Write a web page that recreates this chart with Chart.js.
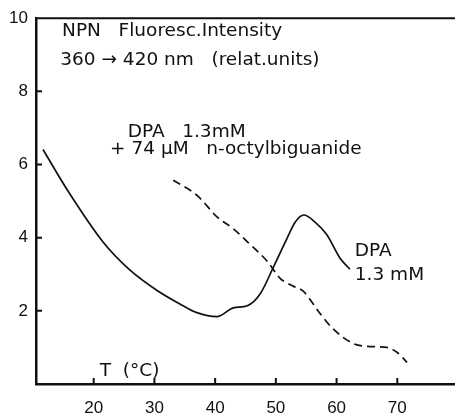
<!DOCTYPE html>
<html>
<head>
<meta charset="utf-8">
<script src="https://cdn.jsdelivr.net/npm/chart.js@4"></script>
<style>
  html, body { margin: 0; padding: 0; background: #fff; }
  #box { width: 455px; height: 419px; }
</style>
</head>
<body>
<div id="box"><canvas id="grafica"></canvas></div>
<script>
// datos (T en °C, intensidad en unidades relativas)
const tSolida = [11.65, 15.9, 21.5, 25.8, 30.5, 34.2, 37, 40.3, 43, 45.3, 47.4, 49.5, 51.8, 53.2, 54.6, 56.5, 58.4, 60.6, 62.2];
const ySolida = [6.41, 5.24, 3.89, 3.14, 2.55, 2.19, 1.95, 1.84, 2.08, 2.14, 2.46, 3.16, 3.97, 4.43, 4.62, 4.42, 4.08, 3.43, 3.14];

const tRayas = [33.1, 37, 40.3, 43, 45.8, 48.6, 50.7, 52.8, 54.5, 57.3, 59.4, 62.7, 65, 68.3, 70, 71.6];
const yRayas = [5.57, 5.16, 4.57, 4.24, 3.81, 3.35, 2.89, 2.68, 2.54, 1.92, 1.51, 1.11, 1.03, 1.0, 0.86, 0.59];

const ticksX = [20, 30, 40, 50, 60, 70];
const ticksY = [2, 4, 6, 8, 10];

// textos sueltos: [texto, x (°C), y (unidades)]
const textos = [
  ['NPN   Fluoresc.Intensity', 14.8, 9.51],
  ['360 \u2192 420 nm   (relat.units)', 14.5, 8.73],
  ['DPA   1.3mM', 25.6, 6.75],
  ['+ 74 \u00b5M   n-octylbiguanide', 22.7, 6.3],
  ['DPA', 63.0, 3.51],
  ['1.3 mM', 63.0, 2.84],
  ['T  (\u00b0C)', 21.0, 0.22]
];

const tinta = '#111';
const fuente = '"DejaVu Sans", sans-serif';
const fuenteTicks = '"Liberation Sans", Arial, sans-serif';

const pts = (xs, ys) => xs.map((x, i) => ({ x, y: ys[i] }));

// marcas hacia adentro, linea superior y textos
const extras = {
  id: 'extras',
  afterDraw(chart) {
    const ctx = chart.ctx;
    const a = chart.chartArea;
    const sx = chart.scales.x, sy = chart.scales.y;
    ctx.save();
    ctx.strokeStyle = tinta;
    ctx.lineWidth = 2;
    ctx.beginPath();
    ctx.moveTo(a.left, a.top);
    ctx.lineTo(a.right, a.top);
    ticksY.forEach(v => {
      const p = sy.getPixelForValue(v);
      ctx.moveTo(a.left, p);
      ctx.lineTo(a.left + 6, p);
    });
    ticksX.forEach(v => {
      const p = sx.getPixelForValue(v);
      ctx.moveTo(p, a.bottom);
      ctx.lineTo(p, a.bottom - 6);
    });
    ctx.stroke();

    ctx.fillStyle = tinta;
    ctx.font = '18.5px ' + fuente;
    ctx.textBaseline = 'alphabetic';
    textos.forEach(t => {
      ctx.fillText(t[0], sx.getPixelForValue(t[1]), sy.getPixelForValue(t[2]));
    });
    ctx.restore();
  }
};

new Chart(document.getElementById('grafica'), {
  type: 'line',
  data: {
    datasets: [
      {
        data: pts(tSolida, ySolida),
        borderColor: tinta,
        borderWidth: 1.7,
        pointRadius: 0,
        cubicInterpolationMode: 'monotone'
      },
      {
        data: pts(tRayas, yRayas),
        borderColor: tinta,
        borderWidth: 1.7,
        borderDash: [8, 5],
        pointRadius: 0,
        cubicInterpolationMode: 'monotone'
      }
    ]
  },
  options: {
    responsive: true,
    maintainAspectRatio: false,
    animation: false,
    layout: { padding: { top: 14, right: 0, left: 0, bottom: 0 } },
    plugins: { legend: { display: false }, tooltip: { enabled: false } },
    scales: {
      x: {
        type: 'linear',
        min: 10.5,
        max: 79.5,
        afterBuildTicks: s => { s.ticks = ticksX.map(v => ({ value: v })); },
        afterFit: s => { s.height = 35; },
        grid: { display: false, drawTicks: false },
        border: { display: true, color: tinta, width: 2.5 },
        ticks: { color: tinta, padding: 14, font: { size: 17, family: fuenteTicks }, maxRotation: 0 }
      },
      y: {
        min: 0,
        max: 10,
        afterBuildTicks: s => { s.ticks = ticksY.map(v => ({ value: v })); },
        afterFit: s => { s.width = 36; },
        grid: { display: false, drawTicks: false },
        border: { display: true, color: tinta, width: 2.5 },
        ticks: { color: tinta, padding: 8, font: { size: 17, family: fuenteTicks } }
      }
    }
  },
  plugins: [extras]
});
</script>
</body>
</html>
